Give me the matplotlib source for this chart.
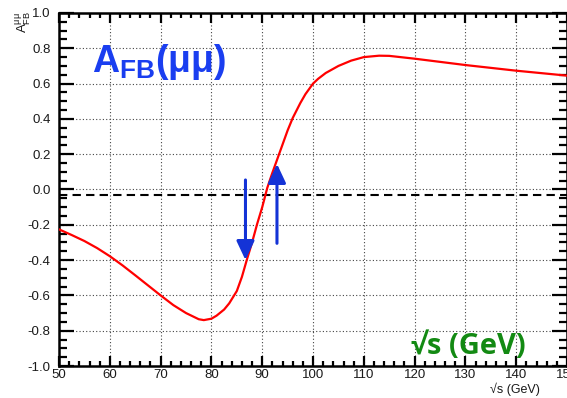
import matplotlib

matplotlib.use("Agg")
import matplotlib.pyplot as plt
from matplotlib.ticker import FormatStrFormatter, MultipleLocator

plt.rcParams["font.family"] = ["Liberation Sans", "DejaVu Sans"]
plt.rcParams["axes.unicode_minus"] = False

# A_FB(mu mu)
sqrt_s = [50, 52.5, 55, 57.5, 60, 62.5, 65, 67.5, 70, 72.5, 75, 77.5, 78.5,
          80, 81, 82.5, 83.5, 85, 86, 87, 88, 89, 90, 91, 92, 93, 94, 95, 96,
          97.5, 98.5, 100, 101, 102.5, 105, 107.5, 110, 113, 115, 120, 130,
          140, 150]
afb = [-0.226, -0.258, -0.292, -0.332, -0.378, -0.43, -0.486, -0.543, -0.60,
       -0.655, -0.70, -0.735, -0.74, -0.732, -0.715, -0.68, -0.645, -0.575,
       -0.495, -0.395, -0.30, -0.195, -0.10, 0.01, 0.095, 0.175, 0.255,
       0.335, 0.405, 0.49, 0.54, 0.60, 0.627, 0.66, 0.70, 0.73, 0.75, 0.758,
       0.757, 0.741, 0.705, 0.673, 0.645]

level = -0.03
arrow_x = [86.7, 92.9]
arrow_from = [0.054, -0.305]
arrow_to = [-0.40, 0.145]

fig = plt.figure(figsize=(5.67, 3.98), dpi=100)
ax = fig.add_axes([0.1041, 0.0804, 0.896, 0.887])

ax.plot(sqrt_s, afb, color="#ff0000", lw=1.6, zorder=3)
ax.axhline(level, color="black", lw=1.5, ls=(0, (4, 2.5)), zorder=2)

for x, y0, y1 in zip(arrow_x, arrow_from, arrow_to):
    ax.annotate(
        "",
        xy=(x, y1),
        xytext=(x, y0),
        arrowprops=dict(
            arrowstyle="-|>,head_width=0.54,head_length=1.15",
            color="#1433d6",
            lw=2.2,
            shrinkA=0,
            shrinkB=0,
            mutation_scale=10,
        ),
        zorder=4,
    )

ax.set_xlim(50, 150)
ax.set_ylim(-1.0, 1.0)
ax.xaxis.set_major_locator(MultipleLocator(10))
ax.xaxis.set_minor_locator(MultipleLocator(2))
ax.yaxis.set_major_locator(MultipleLocator(0.2))
ax.yaxis.set_minor_locator(MultipleLocator(0.05))
ax.yaxis.set_major_formatter(FormatStrFormatter("%.1f"))
ax.grid(True, which="major", color="#444444", ls=(0, (1, 2)), lw=0.8)

ax.tick_params(which="both", direction="in", top=True, right=True,
               width=1.6, colors="black", labelsize=9.5, labelcolor="#1a1a1a")
ax.tick_params(axis="y", which="major", length=11, pad=6)
ax.tick_params(axis="y", which="minor", length=5.5)
ax.tick_params(axis="x", which="major", length=7.5, pad=2)
ax.tick_params(axis="x", which="minor", length=3.5)
for spine in ax.spines.values():
    spine.set_linewidth(1.8)

fig.text(0.042, 0.972, r"$\mathregular{A^{\mu\mu}_{FB}}$", rotation=90,
         ha="center", va="top", fontsize=9.5, color="#1a1a1a")
fig.text(0.953, 0.004, "√s (GeV)", ha="right", va="bottom", fontsize=9,
         color="#1a1a1a")

ax.text(56.5, 0.666, r"A$_{\mathregular{FB}}$(μμ)",
        fontsize=27, fontweight="bold", color="#1a3ef0",
        ha="left", va="baseline", family=["Liberation Sans", "DejaVu Sans"])
ax.text(119.3, -0.93, "√s (GeV)", fontsize=21, fontweight="bold",
        color="#138a13", ha="left", va="baseline",
        family=["Open Sans", "DejaVu Sans"])

fig.savefig("out.png", dpi=100)
